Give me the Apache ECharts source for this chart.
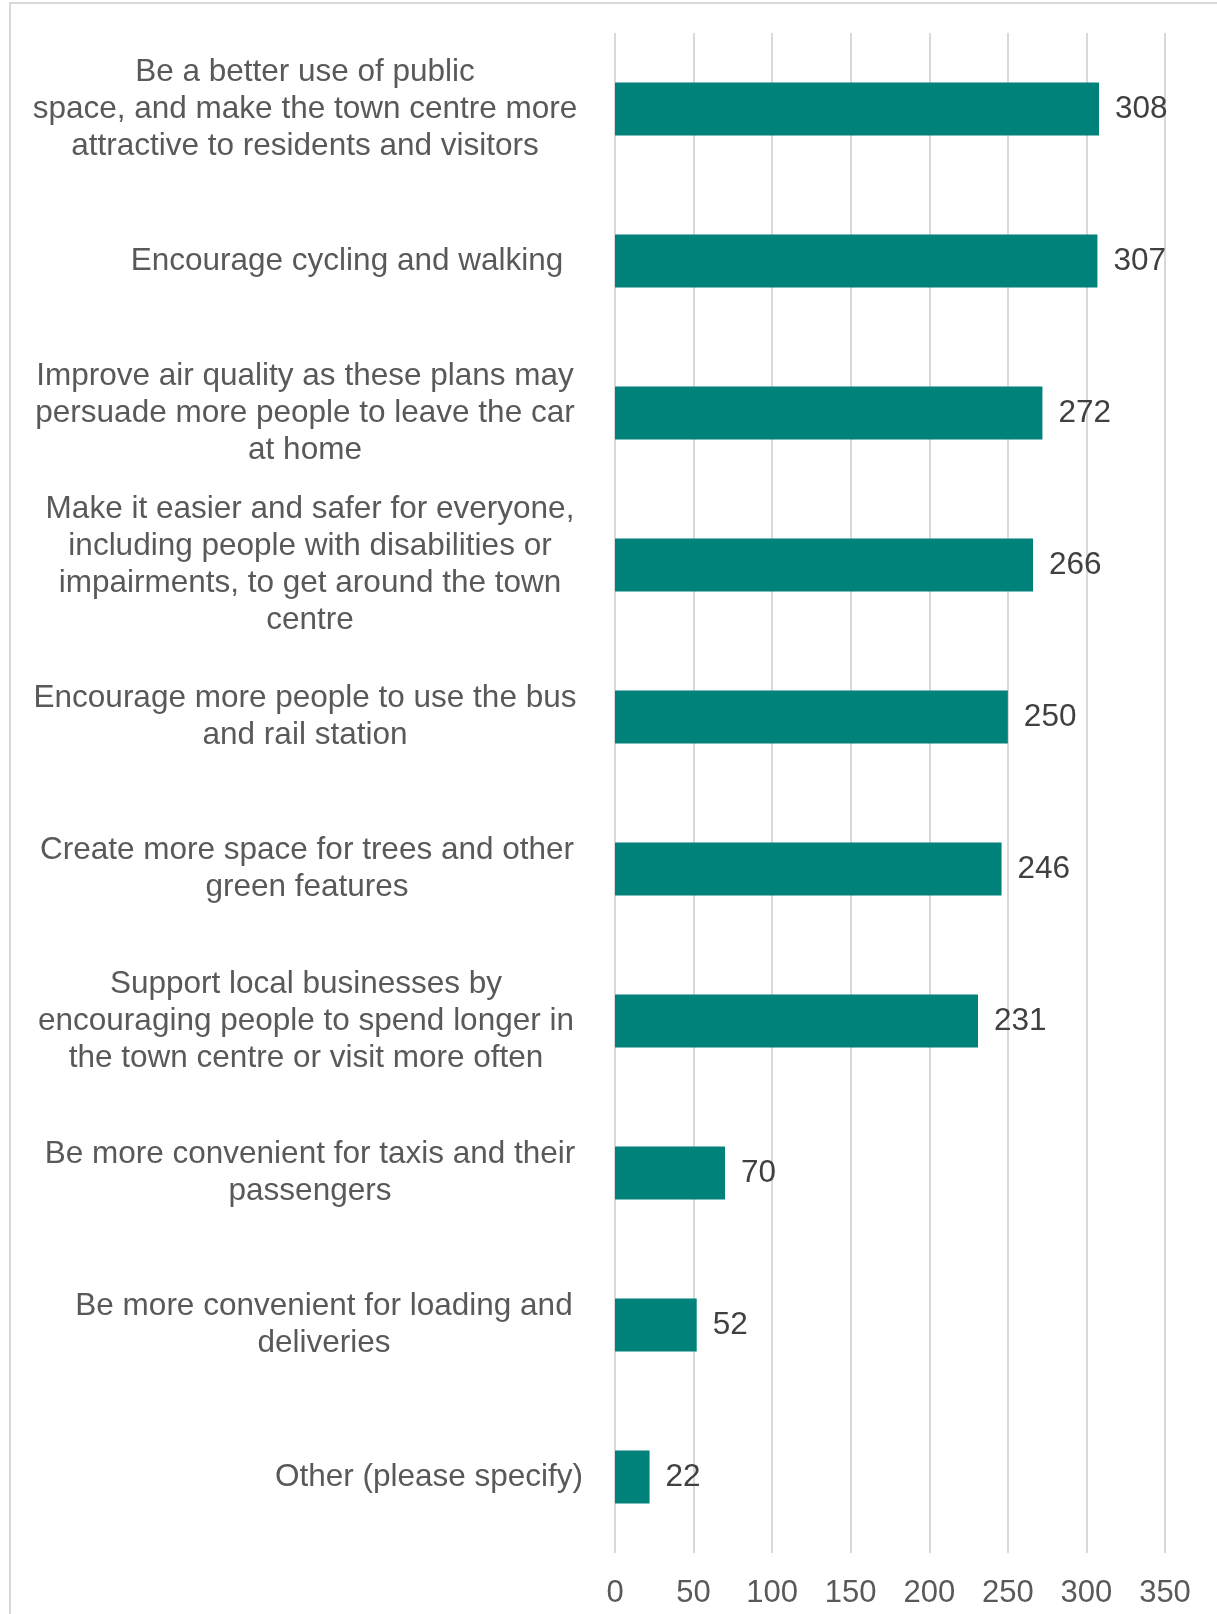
<!DOCTYPE html>
<html>
<head>
<meta charset="utf-8">
<title>Benefits of the town centre plans</title>
<script src="https://cdn.jsdelivr.net/npm/echarts@6/dist/echarts.min.js"></script>
<style>
  html, body { margin: 0; padding: 0; background: #ffffff; }
  #chart { width: 1217px; height: 1614px; }
</style>
</head>
<body>
<div id="chart"></div>
<script>
// Survey responses: what the proposed changes would do
const categories = [
  'Be a better use of public\nspace, and make the town centre more\nattractive to residents and visitors',
  'Encourage cycling and walking',
  'Improve air quality as these plans may\npersuade more people to leave the car\nat home',
  'Make it easier and safer for everyone,\nincluding people with disabilities or\nimpairments, to get around the town\ncentre',
  'Encourage more people to use the bus\nand rail station',
  'Create more space for trees and other\ngreen features',
  'Support local businesses by\nencouraging people to spend longer in\nthe town centre or visit more often',
  'Be more convenient for taxis and their\npassengers',
  'Be more convenient for loading and\ndeliveries',
  'Other (please specify)'
];
const responses = [308, 307, 272, 266, 250, 246, 231, 70, 52, 22];
const axisTicks = [0, 50, 100, 150, 200, 250, 300, 350];

// horizontal nudge (px) for individual wrapped labels
const labelShift = [0, 42, 0, 5, 0, 2, 1, 5, 19, 124];

const FONT = '"Liberation Sans", Arial, sans-serif';
const chart = echarts.init(document.getElementById('chart'), null, { renderer: 'canvas' });

chart.setOption({
  backgroundColor: '#ffffff',
  animation: false,
  graphic: [{
    type: 'rect',
    shape: { x: 10, y: 3, width: 1240, height: 1640 },
    style: { fill: 'none', stroke: '#d9d9d9', lineWidth: 2 },
    silent: true,
    z: -10
  }],
  grid: {
    left: 615, right: 52, top: 33, bottom: 61,
    containLabel: false, outerBoundsMode: 'none'
  },
  xAxis: {
    type: 'value',
    min: axisTicks[0],
    max: axisTicks[axisTicks.length - 1],
    interval: axisTicks[1] - axisTicks[0],
    axisLine: { show: false },
    axisTick: { show: false },
    splitLine: { show: true, lineStyle: { color: '#d9d9d9', width: 2 } },
    axisLabel: {
      color: '#595959', fontSize: 31, fontFamily: FONT, margin: 25
    }
  },
  yAxis: {
    type: 'category',
    inverse: true,
    data: categories.map((c, i) => ({
      value: c,
      textStyle: { align: 'center', padding: [0, 0, 0, labelShift[i] * 2] }
    })),
    axisLine: { show: false },
    axisTick: { show: false },
    axisLabel: {
      color: '#595959', fontSize: 31.5, fontFamily: FONT,
      lineHeight: 37, align: 'center', margin: 310, interval: 0
    }
  },
  series: [{
    type: 'bar',
    data: responses,
    barWidth: '35%',
    itemStyle: { color: '#00827B' },
    label: {
      show: true, position: 'right', distance: 16,
      color: '#404040', fontSize: 31.5, fontFamily: FONT
    }
  }]
});
</script>
</body>
</html>
